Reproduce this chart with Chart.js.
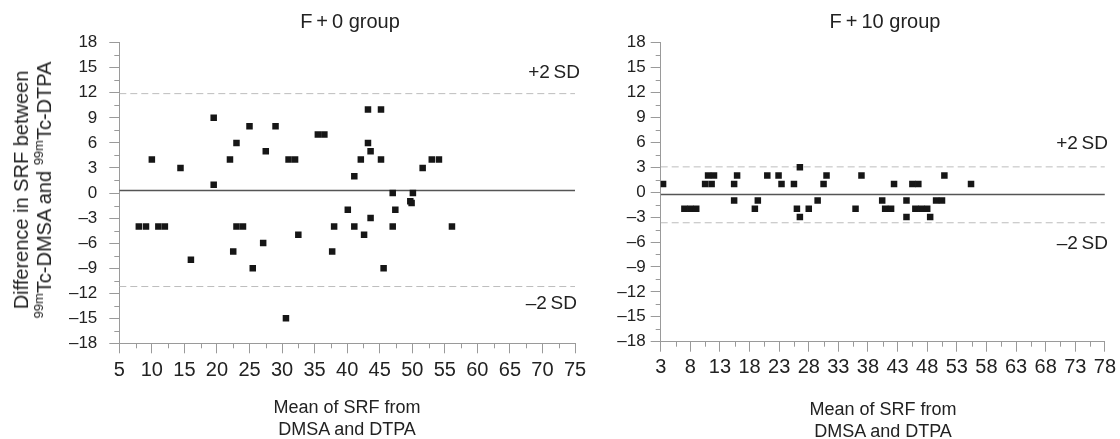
<!DOCTYPE html>
<html lang="en">
<head>
    <meta charset="UTF-8">
    <title>Bland-Altman SRF</title>
    <style>
        body {
            margin: 0;
            padding: 0;
            background: #ffffff;
            font-family: Arial, 'Liberation Sans', Helvetica, sans-serif;
            color: #222;
        }

        .page {
            position: relative;
            width: 1120px;
            height: 439px;
            overflow: hidden;
        }

        .box {
            position: absolute;
            top: 0;
        }

        .txt {
            position: absolute;
            white-space: nowrap;
            line-height: 22px;
        }

        .ytitle {
            position: absolute;
            font-size: 20px;
            line-height: 23px;
            text-align: center;
            white-space: nowrap;
            transform: translate(-50%, -50%) rotate(-90deg);
        }

        .ytitle sup {
            font-size: 13px;
            line-height: 0;
        }
    </style>
    <script src="https://cdn.jsdelivr.net/npm/chart.js"></script>
</head>
<body>
<div class="page">
    <div class="box" style="left:0;width:600px;height:439px">
        <canvas id="leftChart" width="600" height="439"></canvas>
    </div>
    <div class="box" style="left:600px;width:520px;height:439px">
        <canvas id="rightChart" width="520" height="439"></canvas>
    </div>

    <div class="txt" style="left:350px;top:10px;font-size:20px;transform:translateX(-50%)">F&thinsp;+&thinsp;0 group</div>
    <div class="txt" style="left:885px;top:10px;font-size:20px;transform:translateX(-50%)">F&thinsp;+&thinsp;10 group</div>

    <div class="ytitle" style="left:33px;top:190px">Difference in SRF between<br><sup>99m</sup>Tc-DMSA and <sup>99m</sup>Tc-DTPA</div>

    <div class="txt" style="left:347px;top:396px;font-size:18px;text-align:center;transform:translateX(-50%)">Mean of SRF from<br>DMSA and DTPA</div>
    <div class="txt" style="left:883px;top:398px;font-size:18px;text-align:center;transform:translateX(-50%)">Mean of SRF from<br>DMSA and DTPA</div>

    <div class="txt" style="right:540px;top:61px;font-size:19px">+2&thinsp;SD</div>
    <div class="txt" style="right:543px;top:292px;font-size:19px">&ndash;2&thinsp;SD</div>
    <div class="txt" style="right:12px;top:132px;font-size:19px">+2&thinsp;SD</div>
    <div class="txt" style="right:12px;top:232px;font-size:19px">&ndash;2&thinsp;SD</div>
</div>

<script>
    // F+0 group: mean of SRF vs difference
    const leftX = [19.5, 25, 29, 35.5, 36.5, 23, 27.5, 10, 22, 31, 32, 14.4, 19.5,
        43.2, 45.2, 43.2, 43.6, 42.1, 45.2, 53, 54.1, 51.6, 41.1,
        47, 50.1,
        8, 9.1, 11, 12, 23, 24, 32.5, 27.1, 22.5, 16, 25.5, 30.6, 38, 37.7,
        49.7, 49.9, 40.1, 47.4, 43.6, 41.1, 47, 56.1, 42.6, 45.6];
    const leftY = [9, 8, 8, 7, 7, 6, 5, 4, 4, 4, 4, 3, 1,
        10, 10, 6, 5, 4, 4, 4, 4, 3, 2,
        0, 0,
        -4, -4, -4, -4, -4, -4, -5, -6, -7, -8, -9, -15, -4, -7,
        -1, -1.2, -2, -2, -3, -4, -4, -4, -5, -9];
    const leftMean = 0.3;
    const leftUpper = 11.9;
    const leftLower = -11.2;

    // F+10 group
    const rightX = [3.4, 10.5, 11.6, 15.4, 23.4, 25.5, 30.5,
        11, 12, 15.9, 21, 22.9, 31,
        26.5,
        15.4, 19.4, 29.5,
        7, 8, 9, 18.9, 26, 28,
        26.5,
        36.9, 50.9,
        42.4, 45.5, 46.5, 55.4,
        40.4, 44.5, 49.5, 50.5,
        35.9, 40.9, 41.9, 46, 47, 48,
        44.5, 48.5];
    const rightY = [1, 1, 1, 1, 1, 1, 1,
        2, 2, 2, 2, 2, 2,
        3,
        -1, -1, -1,
        -2, -2, -2, -2, -2, -2,
        -3,
        2, 2,
        1, 1, 1, 1,
        -1, -1, -1, -1,
        -2, -2, -2, -2, -2, -2,
        -3, -3];
    const rightMean = -0.28;
    const rightUpper = 3.05;
    const rightLower = -3.68;

    const yTicks = [-18, -15, -12, -9, -6, -3, 0, 3, 6, 9, 12, 15, 18];
    const leftXTicks = [5, 10, 15, 20, 25, 30, 35, 40, 45, 50, 55, 60, 65, 70, 75];
    const rightXTicks = [3, 8, 13, 18, 23, 28, 33, 38, 43, 48, 53, 58, 63, 68, 73, 78];

    const FONT = "Arial, 'Liberation Sans', Helvetica, sans-serif";
    const AXIS = '#9a9a9a';

    function midpoints(arr) {
        const out = [];
        for (let i = 0; i < arr.length - 1; i++) out.push((arr[i] + arr[i + 1]) / 2);
        return out;
    }

    // short ticks between the labelled ones
    const minorTicks = {
        id: 'minorTicks',
        afterDraw(chart) {
            const ctx = chart.ctx;
            const xs = chart.scales.x, ys = chart.scales.y;
            ctx.save();
            ctx.strokeStyle = AXIS;
            ctx.lineWidth = 1;
            ctx.beginPath();
            midpoints(xs.ticks.map(t => t.value)).forEach(v => {
                const px = Math.round(xs.getPixelForValue(v)) + 0.5;
                ctx.moveTo(px, xs.top);
                ctx.lineTo(px, xs.top + 5);
            });
            midpoints(ys.ticks.map(t => t.value)).forEach(v => {
                const py = Math.round(ys.getPixelForValue(v)) + 0.5;
                ctx.moveTo(ys.right, py);
                ctx.lineTo(ys.right - 5, py);
            });
            ctx.stroke();
            ctx.restore();
        }
    };

    function lineSet(x0, x1, y, color, width, dash) {
        return {
            type: 'line',
            data: [{ x: x0, y: y }, { x: x1, y: y }],
            borderColor: color,
            borderWidth: width,
            borderDash: dash,
            pointRadius: 0,
            fill: false,
            order: 2
        };
    }

    function makeChart(id, xs, ys, xTicks, mean, upper, lower, yWidth, yPad, xHeight, padRight, xPad) {
        const pts = xs.map((x, i) => ({ x: x, y: ys[i] }));
        const x0 = xTicks[0], x1 = xTicks[xTicks.length - 1];
        return new Chart(document.getElementById(id), {
            type: 'scatter',
            data: {
                datasets: [
                    {
                        data: pts,
                        pointStyle: 'rect',
                        pointRadius: 4.6,
                        pointBorderWidth: 0,
                        backgroundColor: '#161616',
                        borderColor: '#161616',
                        order: 0
                    },
                    lineSet(x0, x1, upper, '#bdbdbd', 1, [7, 4]),
                    lineSet(x0, x1, lower, '#bdbdbd', 1, [7, 4]),
                    lineSet(x0, x1, mean, '#555', 1.6, [])
                ]
            },
            options: {
                responsive: false,
                animation: false,
                layout: { padding: { top: 42.7, right: padRight, bottom: 0, left: 0 } },
                plugins: { legend: { display: false }, tooltip: { enabled: false } },
                scales: {
                    x: {
                        type: 'linear',
                        min: x0,
                        max: x1,
                        afterBuildTicks: s => { s.ticks = xTicks.map(v => ({ value: v })); },
                        afterFit: s => { s.height = xHeight; },
                        ticks: {
                            autoSkip: false,
                            maxRotation: 0,
                            padding: xPad,
                            color: '#222',
                            font: { family: FONT, size: 20 }
                        },
                        grid: { drawOnChartArea: false, tickLength: 10, tickColor: AXIS, color: AXIS },
                        border: { color: AXIS }
                    },
                    y: {
                        min: -18,
                        max: 18,
                        afterBuildTicks: s => { s.ticks = yTicks.map(v => ({ value: v })); },
                        afterFit: s => { s.width = yWidth; },
                        ticks: {
                            padding: yPad,
                            color: '#222',
                            font: { family: FONT, size: 17 },
                            callback: v => v < 0 ? '\u2013' + (-v) : String(v)
                        },
                        grid: { drawOnChartArea: false, tickLength: 10, tickColor: AXIS, color: AXIS },
                        border: { color: AXIS }
                    }
                }
            },
            plugins: [minorTicks]
        });
    }

    window.onload = () => {
        makeChart('leftChart', leftX, leftY, leftXTicks, leftMean, leftUpper, leftLower,
            119.3, 12, 439 - 343.3, 25, 5);
        makeChart('rightChart', rightX, rightY, rightXTicks, rightMean, rightUpper, rightLower,
            60.7, 5, 439 - 341.7, 14.3, 4);
    };
</script>
</body>
</html>
